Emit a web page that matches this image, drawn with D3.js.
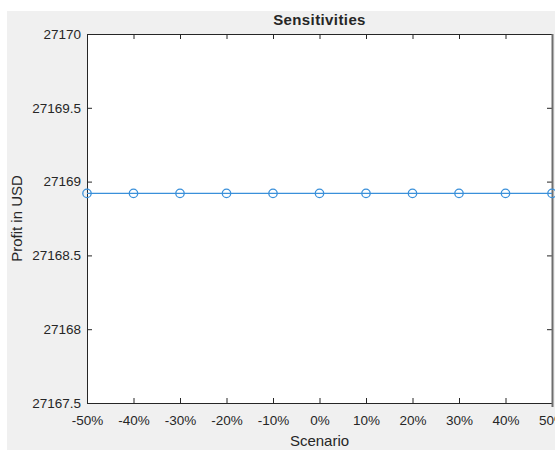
<!DOCTYPE html>
<html>
<head>
<meta charset="utf-8">
<script src="https://cdn.jsdelivr.net/npm/d3@7"></script>
<style>
  html, body { margin: 0; padding: 0; background: #ffffff; }
  svg { display: block; }
  text { font-family: "Liberation Sans", Arial, Helvetica, sans-serif; fill: #262626; }
</style>
</head>
<body>
<svg id="chart" width="555" height="450"></svg>
<script>
// ---- data ----
const scenarios = [-50, -40, -30, -20, -10, 0, 10, 20, 30, 40, 50];
const profit = [27168.92, 27168.92, 27168.92, 27168.92, 27168.92, 27168.92,
                27168.92, 27168.92, 27168.92, 27168.92, 27168.92];
const yTicks = [27167.5, 27168, 27168.5, 27169, 27169.5, 27170];
const yDomain = [27167.5, 27170];
const xDomain = [-50, 50];
const titleText = "Sensitivities";
const xLabelText = "Scenario";
const yLabelText = "Profit in USD";

// ---- layout ----
const svg = d3.select("#chart");
const W = 555, H = 450;
const plot = { left: 87, top: 34, right: 552, bottom: 403 };

// figure background
svg.append("rect").attr("x", 7).attr("y", 11).attr("width", W - 7).attr("height", H - 11)
  .attr("fill", "#f0f0f0");

// axes background
svg.append("rect").attr("x", plot.left).attr("y", plot.top)
  .attr("width", plot.right - plot.left).attr("height", plot.bottom - plot.top)
  .attr("fill", "#ffffff");

const x = d3.scaleLinear().domain(xDomain).range([plot.left, plot.right]);
const y = d3.scaleLinear().domain(yDomain).range([plot.bottom, plot.top]);

const tickLen = 5;
const axisColor = "#262626";
const labelColor = "#333333";

function styleAxis(g, showLabels) {
  g.select(".domain").remove();
  g.selectAll(".tick line").attr("stroke", axisColor).attr("stroke-width", 1);
  g.selectAll(".tick text").attr("fill", labelColor)
    .style("font-size", "13.5px");
  if (!showLabels) g.selectAll(".tick text").remove();
}

// bottom axis
const xAxis = d3.axisBottom(x).tickValues(scenarios)
  .tickFormat(d => d + "%").tickSizeInner(-tickLen).tickSizeOuter(0).tickPadding(12);
svg.append("g").attr("transform", `translate(0,${plot.bottom})`).call(xAxis)
  .call(g => styleAxis(g, true));

// top axis (ticks only)
svg.append("g").attr("transform", `translate(0,${plot.top})`)
  .call(d3.axisTop(x).tickValues(scenarios).tickSizeInner(-tickLen).tickSizeOuter(0))
  .call(g => styleAxis(g, false));

// left axis
const yAxis = d3.axisLeft(y).tickValues(yTicks)
  .tickFormat(d => String(d)).tickSizeInner(-tickLen).tickSizeOuter(0).tickPadding(6);
svg.append("g").attr("transform", `translate(${plot.left},0)`).call(yAxis)
  .call(g => styleAxis(g, true));

// right axis (ticks only)
svg.append("g").attr("transform", `translate(${plot.right},0)`)
  .call(d3.axisRight(y).tickValues(yTicks).tickSizeInner(-tickLen).tickSizeOuter(0))
  .call(g => styleAxis(g, false));

// box lines
svg.append("line").attr("x1", plot.left).attr("x2", plot.right).attr("y1", plot.top + 0.5).attr("y2", plot.top + 0.5)
  .attr("stroke", axisColor);
svg.append("line").attr("x1", plot.left).attr("x2", plot.right).attr("y1", plot.bottom + 0.5).attr("y2", plot.bottom + 0.5)
  .attr("stroke", axisColor);
svg.append("line").attr("x1", plot.left + 0.5).attr("x2", plot.left + 0.5).attr("y1", plot.top).attr("y2", plot.bottom + 1)
  .attr("stroke", axisColor);
svg.append("line").attr("x1", plot.right + 0.5).attr("x2", plot.right + 0.5).attr("y1", plot.top).attr("y2", plot.bottom + 4)
  .attr("stroke", "#6e6e6e").attr("stroke-width", 2);

// data line
const pts = scenarios.map((s, i) => ({ s, v: profit[i] }));
const line = d3.line().x(d => x(d.s)).y(d => y(d.v));
const lineColor = "#3a90da";
svg.append("path").datum(pts).attr("d", line)
  .attr("fill", "none").attr("stroke", lineColor).attr("stroke-width", 1.2);

svg.append("g").selectAll("circle").data(pts).join("circle")
  .attr("cx", d => x(d.s)).attr("cy", d => y(d.v)).attr("r", 4.2)
  .attr("fill", "none").attr("stroke", lineColor).attr("stroke-width", 1.3);

// title
svg.append("text").attr("x", (plot.left + plot.right) / 2).attr("y", 25)
  .attr("text-anchor", "middle").style("font-size", "15px").style("font-weight", "bold")
  .style("letter-spacing", "0.4px").attr("fill", "#000000")
  .text(titleText);

// x label
svg.append("text").attr("x", (plot.left + plot.right) / 2).attr("y", 446)
  .attr("text-anchor", "middle").style("font-size", "15px").attr("fill", labelColor).text(xLabelText);

// y label
svg.append("text")
  .attr("transform", `translate(22,${(plot.top + plot.bottom) / 2}) rotate(-90)`)
  .attr("text-anchor", "middle").style("font-size", "15px").attr("fill", labelColor).text(yLabelText);
</script>
</body>
</html>
